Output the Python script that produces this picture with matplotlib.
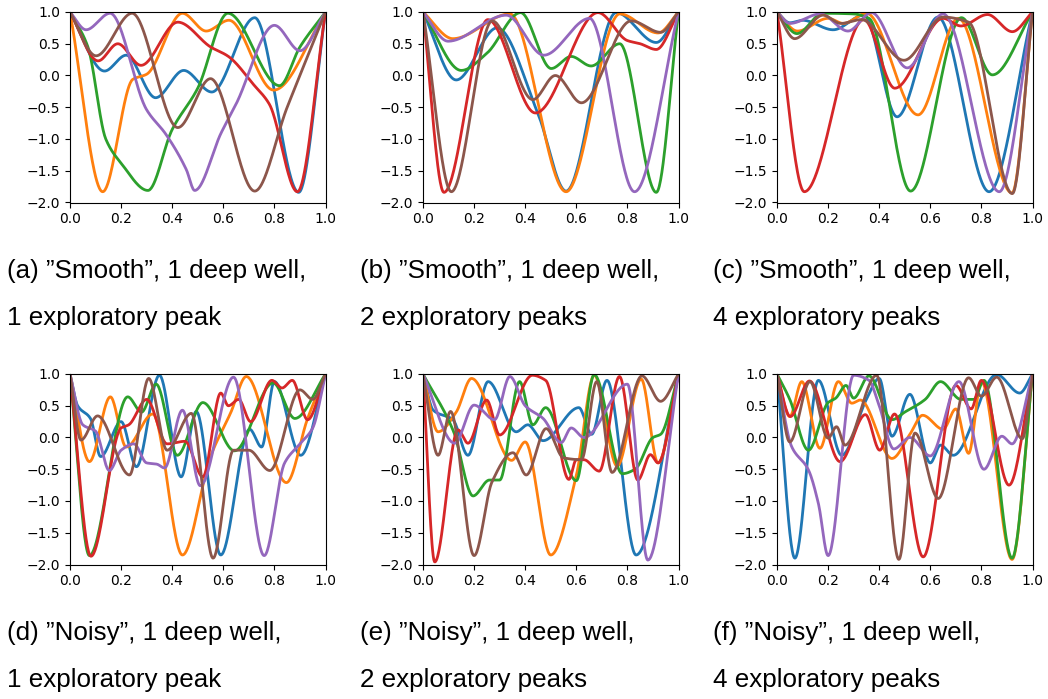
import numpy as np
import matplotlib
matplotlib.use("Agg")
import matplotlib.pyplot as plt

# key points (x, y): local maxima / minima / shoulders
# (a) smooth, 1 exploratory peak
a_blue = [(0, 1), (0.135, 0.07), (0.22, 0.32), (0.335, -0.35), (0.445, 0.08), (0.555, -0.26), (0.723, 0.91), (0.895, -1.84), (1, 1)]
a_orange = [(0, 1), (0.128, -1.83), (0.246, -0.06), (0.3, 0.02), (0.44, 0.98), (0.533, 0.7), (0.622, 0.87), (0.797, -0.23), (1, 1)]
a_green = [(0, 1), (0.07, 0.45), (0.14, -1.0), (0.2, -1.38), (0.305, -1.81), (0.4, -0.85), (0.5, -0.2), (0.618, 0.98), (0.82, -0.16), (0.9, 0.45), (1, 1)]
a_red = [(0, 1), (0.11, 0.23), (0.187, 0.5), (0.278, 0.16), (0.422, 0.84), (0.55, 0.45), (0.62, 0.3), (0.72, -0.15), (0.78, -0.45), (0.89, -1.83), (1, 1)]
a_purple = [(0, 1), (0.063, 0.72), (0.157, 0.98), (0.3, -0.54), (0.376, -0.93), (0.455, -1.48), (0.488, -1.81), (0.592, -0.9), (0.65, -0.45), (0.8, 0.79), (0.9, 0.39), (1, 1)]
a_brown = [(0, 1), (0.102, 0.31), (0.243, 0.98), (0.422, -0.82), (0.55, -0.05), (0.723, -1.82), (0.85, -0.5), (1, 1)]

# (b) smooth, 2 exploratory peaks
b_blue = [(0, 1), (0.13, -0.07), (0.29, 0.75), (0.45, -0.6), (0.56, -1.82), (0.756, 0.99), (0.913, 0.52), (1, 1)]
b_orange = [(0, 1), (0.117, 0.58), (0.34, 0.97), (0.56, -1.83), (0.77, 0.97), (0.92, 0.67), (1, 1)]
b_green = [(0, 1), (0.15, 0.08), (0.25, 0.35), (0.382, 0.99), (0.502, 0.11), (0.58, 0.3), (0.658, 0.15), (0.77, 0.5), (0.913, -1.84), (1, 1)]
b_red = [(0, 1), (0.082, -1.84), (0.254, 0.88), (0.44, -0.59), (0.685, 0.99), (0.8, 0.55), (0.85, 0.5), (0.913, 0.41), (1, 1)]
b_purple = [(0, 1), (0.098, 0.54), (0.326, 0.95), (0.473, 0.32), (0.652, 0.9), (0.828, -1.83), (1, 1)]
b_brown = [(0, 1), (0.111, -1.83), (0.271, 0.86), (0.43, -0.38), (0.518, 0.0), (0.62, -0.43), (0.815, 0.86), (0.93, 0.68), (1, 1)]

# (c) smooth, 4 exploratory peaks
c_blue = [(0, 1), (0.05, 0.83), (0.1, 0.87), (0.22, 0.72), (0.34, 0.95), (0.47, -0.65), (0.63, 0.92), (0.83, -1.83), (1, 1)]
c_orange = [(0, 1), (0.08, 0.7), (0.2, 0.9), (0.26, 0.82), (0.35, 0.98), (0.552, -0.62), (0.71, 0.9), (0.92, -1.85), (1, 1)]
c_green = [(0, 1), (0.078, 0.66), (0.18, 0.98), (0.3, 0.97), (0.36, 0.9), (0.523, -1.82), (0.722, 0.91), (0.843, 0.01), (1, 1)]
c_red = [(0, 1), (0.107, -1.83), (0.34, 0.88), (0.461, -0.2), (0.65, 0.9), (0.72, 0.78), (0.824, 0.96), (0.921, 0.69), (1, 1)]
c_purple = [(0, 1), (0.05, 0.82), (0.17, 0.97), (0.278, 0.7), (0.37, 0.99), (0.51, 0.12), (0.65, 0.97), (0.87, -1.83), (1, 1)]
c_brown = [(0, 1), (0.069, 0.58), (0.18, 0.95), (0.25, 0.82), (0.33, 0.88), (0.497, 0.24), (0.65, 0.92), (0.75, 0.84), (0.921, -1.86), (1, 1)]

# (d) noisy, 1 exploratory peak
d_blue = [(0, 1), (0.03, 0.5), (0.08, 0.3), (0.12, -0.3), (0.2, 0.25), (0.26, -0.46), (0.35, 0.98), (0.435, -0.62), (0.494, 0.41), (0.59, -1.85), (0.703, 0.13), (0.75, -0.15), (0.8, 0.88), (0.903, -0.28), (1, 1)]
d_orange = [(0, 1), (0.076, -0.38), (0.158, 0.64), (0.22, -0.15), (0.324, 0.37), (0.44, -1.85), (0.55, -0.3), (0.63, 0.4), (0.69, 0.96), (0.847, -0.71), (0.93, 0.3), (1, 1)]
d_green = [(0, 1), (0.076, -1.86), (0.226, 0.64), (0.28, 0.4), (0.337, 0.84), (0.42, -0.28), (0.52, 0.55), (0.644, -0.21), (0.795, 0.86), (0.88, 0.3), (1, 1)]
d_red = [(0, 1), (0.082, -1.87), (0.2, 0.15), (0.23, 0.2), (0.3, 0.6), (0.38, -0.1), (0.45, -0.06), (0.52, -0.62), (0.59, 0.7), (0.62, 0.5), (0.66, 0.6), (0.707, 0.25), (0.79, 0.9), (0.83, 0.78), (0.87, 0.9), (0.93, 0.28), (1, 1)]
d_purple = [(0, 1), (0.05, 0.2), (0.1, 0.1), (0.154, -0.52), (0.2, -0.2), (0.25, -0.1), (0.3, -0.4), (0.34, -0.42), (0.37, -0.48), (0.44, 0.43), (0.51, -0.76), (0.64, 0.95), (0.76, -1.86), (0.84, -0.4), (0.9, -0.1), (0.95, 0.15), (1, 1)]
d_brown = [(0, 1), (0.043, -0.04), (0.108, 0.34), (0.233, -0.59), (0.308, 0.93), (0.38, -0.2), (0.475, 0.38), (0.56, -1.9), (0.64, -0.2), (0.7, -0.2), (0.782, -0.52), (0.9, 0.75), (0.95, 0.6), (1, 1)]

# (e) noisy, 2 exploratory peaks
e_blue = [(0, 1), (0.04, 0.43), (0.117, 0.28), (0.176, -0.28), (0.255, 0.88), (0.365, 0.09), (0.41, 0.2), (0.47, -0.05), (0.61, 0.47), (0.66, 0.05), (0.72, 0.9), (0.834, -1.85), (1, 1)]
e_orange = [(0, 1), (0.059, 0.09), (0.13, 0.4), (0.19, 0.93), (0.347, -0.36), (0.4, -0.07), (0.5, -1.85), (0.6, -0.6), (0.67, 0.98), (0.76, -0.45), (0.854, 0.92), (0.92, -0.4), (1, 1)]
e_green = [(0, 1), (0.12, 0.09), (0.196, -0.92), (0.26, -0.67), (0.3, -0.67), (0.378, 0.88), (0.43, 0.2), (0.48, 0.47), (0.6, -0.68), (0.67, 0.99), (0.78, -0.57), (0.83, -0.5), (0.9, 0.0), (0.93, 0.05), (1, 1)]
e_red = [(0, 1), (0.046, -1.96), (0.137, 0.12), (0.176, -0.09), (0.249, 0.59), (0.3, 0.04), (0.428, 0.98), (0.48, 0.9), (0.571, -0.66), (0.6, -0.35), (0.63, -0.35), (0.69, -0.53), (0.769, 0.96), (0.841, -0.67), (0.89, -0.27), (0.92, -0.4), (1, 1)]
e_purple = [(0, 1), (0.124, -0.09), (0.2, 0.51), (0.28, 0.28), (0.34, 0.96), (0.4, 0.5), (0.47, 0.3), (0.541, -0.08), (0.58, 0.15), (0.63, 0.0), (0.8, 0.84), (0.88, -1.93), (1, 1)]
e_brown = [(0, 1), (0.059, -0.28), (0.108, 0.41), (0.2, -1.86), (0.27, -0.7), (0.352, -0.24), (0.404, -0.59), (0.482, 0.14), (0.55, -0.32), (0.62, -0.35), (0.68, 0.88), (0.74, -0.55), (0.857, 0.97), (0.93, 0.57), (1, 1)]

# (f) noisy, 4 exploratory peaks
f_blue = [(0, 1), (0.07, -1.9), (0.162, 0.9), (0.253, -0.28), (0.35, 0.6), (0.4, 0.93), (0.45, 0.02), (0.52, 0.68), (0.6, -0.4), (0.64, -0.12), (0.69, -0.28), (0.86, 0.99), (0.95, 0.7), (1, 1)]
f_orange = [(0, 1), (0.05, 0.33), (0.097, 0.88), (0.168, -0.17), (0.24, 0.88), (0.293, 0.54), (0.326, 0.59), (0.45, -0.33), (0.52, 0.05), (0.57, 0.35), (0.65, 0.13), (0.7, 0.45), (0.75, -0.25), (0.8, 0.88), (0.92, -1.92), (1, 1)]
f_green = [(0, 1), (0.05, 0.6), (0.123, -0.2), (0.2, 0.55), (0.23, 0.62), (0.27, 0.82), (0.3, 0.62), (0.36, 0.97), (0.45, 0.28), (0.5, 0.4), (0.58, 0.6), (0.64, 0.88), (0.72, 0.6), (0.77, 0.6), (0.81, 0.9), (0.92, -1.9), (1, 1)]
f_red = [(0, 1), (0.052, 0.33), (0.127, 0.89), (0.247, -0.38), (0.346, 0.36), (0.402, -0.2), (0.46, 0.37), (0.572, -1.88), (0.7, 0.82), (0.76, 0.45), (0.8, 0.9), (0.908, -0.75), (1, 1)]
f_purple = [(0, 1), (0.057, -0.14), (0.123, -0.51), (0.162, -1.04), (0.2, -1.86), (0.3, 0.98), (0.36, 0.9), (0.4, 0.5), (0.457, -0.18), (0.52, 0.0), (0.6, -0.29), (0.712, 0.88), (0.81, -0.5), (0.88, 0.02), (0.92, -0.1), (1, 1)]
f_brown = [(0, 1), (0.05, -0.07), (0.129, 0.88), (0.2, -0.01), (0.233, 0.17), (0.266, -0.12), (0.39, 0.98), (0.477, -1.92), (0.54, 0.07), (0.631, -0.96), (0.75, 0.94), (0.8, 0.65), (0.86, 0.95), (0.96, -0.02), (1, 1)]

captions = [
    ("(a) \u201dSmooth\u201d, 1 deep well,", "1 exploratory peak"),
    ("(b) \u201dSmooth\u201d, 1 deep well,", "2 exploratory peaks"),
    ("(c) \u201dSmooth\u201d, 1 deep well,", "4 exploratory peaks"),
    ("(d) \u201dNoisy\u201d, 1 deep well,", "1 exploratory peak"),
    ("(e) \u201dNoisy\u201d, 1 deep well,", "2 exploratory peaks"),
    ("(f) \u201dNoisy\u201d, 1 deep well,", "4 exploratory peaks"),
]

panels = [
    [a_blue, a_orange, a_green, a_red, a_purple, a_brown],
    [b_blue, b_orange, b_green, b_red, b_purple, b_brown],
    [c_blue, c_orange, c_green, c_red, c_purple, c_brown],
    [d_blue, d_orange, d_green, d_red, d_purple, d_brown],
    [e_blue, e_orange, e_green, e_red, e_purple, e_brown],
    [f_blue, f_orange, f_green, f_red, f_purple, f_brown],
]
colors = ["C0", "C1", "C2", "C3", "C4", "C5"]


def smooth(pts, n=400):
    # monotone cubic (pchip) through the read points so extrema stay put
    x = np.array([p[0] for p in pts], float)
    y = np.array([p[1] for p in pts], float)
    h = np.diff(x)
    d = np.diff(y) / h
    m = np.zeros_like(y)
    m[0], m[-1] = d[0], d[-1]
    for k in range(1, len(x) - 1):
        if d[k - 1] * d[k] > 0:
            w1 = 2 * h[k] + h[k - 1]
            w2 = h[k] + 2 * h[k - 1]
            m[k] = (w1 + w2) / (w1 / d[k - 1] + w2 / d[k])
    xs = np.linspace(0, 1, n)
    i = np.clip(np.searchsorted(x, xs) - 1, 0, len(x) - 2)
    t = (xs - x[i]) / h[i]
    h00 = 2 * t**3 - 3 * t**2 + 1
    h10 = t**3 - 2 * t**2 + t
    h01 = -2 * t**3 + 3 * t**2
    h11 = t**3 - t**2
    ys = h00 * y[i] + h10 * h[i] * m[i] + h01 * y[i + 1] + h11 * h[i] * m[i + 1]
    return xs, ys


fig = plt.figure(figsize=(10.48, 6.99), dpi=100)
W, H = 1048, 699
lefts = [70, 423, 777]
tops = [12, 374]
cap_x = [7, 360, 713]
cap_y = [(271, 318), (633, 680)]

for idx, curves in enumerate(panels):
    row, col = divmod(idx, 3)
    ax = fig.add_axes([lefts[col] / W, 1 - (tops[row] + 190.5) / H, 255.5 / W, 190.5 / H])
    for pts, c in zip(curves, colors):
        xs, ys = smooth(pts)
        ax.plot(xs, ys, color=c, lw=2.0)
    ax.set_xlim(0, 1)
    ax.set_ylim(-2, 1)
    ax.set_xticks(np.arange(0, 1.01, 0.2))
    ax.set_yticks(np.arange(-2, 1.01, 0.5))
    ax.tick_params(labelsize=10)
    l1, l2 = captions[idx]
    fig.text(cap_x[col] / W, 1 - cap_y[row][0] / H, l1, fontsize=18.7,
             family="Liberation Sans", va="center", ha="left")
    fig.text(cap_x[col] / W, 1 - cap_y[row][1] / H, l2, fontsize=18.7,
             family="Liberation Sans", va="center", ha="left")

fig.savefig("out.png", dpi=100)
